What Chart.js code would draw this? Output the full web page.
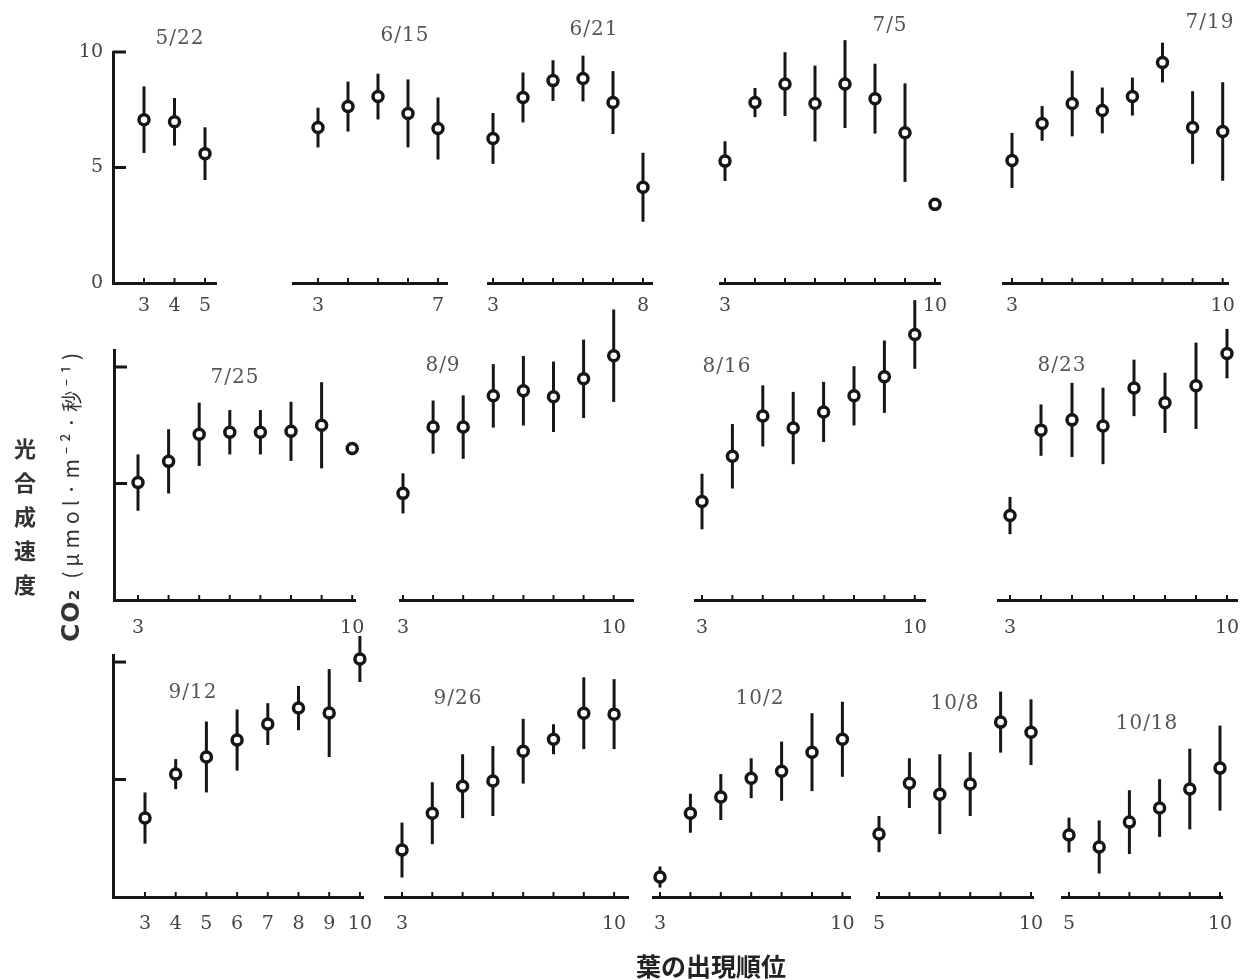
<!DOCTYPE html>
<html><head><meta charset="utf-8">
<script src="https://cdn.jsdelivr.net/npm/chart.js@4.4.1/dist/chart.umd.min.js"></script>
<style>
html,body{margin:0;padding:0;background:#fff;}
body{width:1247px;height:980px;position:relative;overflow:hidden;}
.cw{position:absolute;}
.date{position:absolute;transform:translate(-50%,-50%);font-family:'DejaVu Serif',serif;font-size:20px;color:#555;white-space:nowrap;letter-spacing:1px;z-index:5;}
.ytitle{position:absolute;left:12px;top:430px;width:26px;font-family:'Noto Sans CJK JP',sans-serif;font-weight:700;font-size:22px;line-height:34px;color:#333;text-align:center;z-index:5;}
.yunit{position:absolute;left:70px;top:495px;transform:translate(-50%,-50%) rotate(-90deg);font-family:'Noto Sans CJK JP',sans-serif;font-size:21px;letter-spacing:5px;color:#333;white-space:nowrap;z-index:5;}
.yunit b{font-family:'DejaVu Sans',sans-serif;font-size:25px;letter-spacing:1px;}
.xtitle{position:absolute;left:711px;top:965px;transform:translate(-50%,-50%);font-family:'Noto Sans CJK JP',sans-serif;font-weight:700;font-size:25px;color:#222;white-space:nowrap;z-index:5;}
</style></head><body>
<div class="ytitle">光<br>合<br>成<br>速<br>度</div>
<div class="yunit"><b>CO₂</b> (μmol·m⁻²·秒⁻¹)</div>
<div class="xtitle">葉の出現順位</div>
<script>
// ---------- DATA ----------
const dates = ['5/22','6/15','6/21','7/5','7/19','7/25','8/9','8/16','8/23','9/12','9/26','10/2','10/8','10/18'];

const ticks_0522 = ['3','4','5'];
const mean_0522 = [7.07, 6.98, 5.6];
const sd_0522   = [1.44, 1.03, 1.14];

const ticks_0615 = ['3','','','','7'];
const mean_0615 = [6.72, 7.63, 8.06, 7.33, 6.68];
const sd_0615   = [0.86, 1.08, 0.99, 1.47, 1.34];

const ticks_0621 = ['3','','','','','8'];
const mean_0621 = [6.25, 8.02, 8.75, 8.84, 7.8, 4.14];
const sd_0621   = [1.1, 1.08, 0.88, 0.99, 1.36, 1.49];

const ticks_0705 = ['3','','','','','','','10'];
const mean_0705 = [5.27, 7.8, 8.6, 7.76, 8.6, 7.97, 6.5, 3.4];
const sd_0705   = [0.86, 0.63, 1.38, 1.64, 1.9, 1.51, 2.13, 0];

const ticks_0719 = ['3','','','','','','','10'];
const mean_0719 = [5.3, 6.9, 7.76, 7.46, 8.06, 9.53, 6.72, 6.55];
const sd_0719   = [1.19, 0.75, 1.42, 0.99, 0.82, 0.86, 1.57, 2.13];

const ticks_0725 = ['3','','','','','','','10'];
const mean_0725 = [5.04, 5.95, 7.11, 7.2, 7.2, 7.24, 7.5, 6.5];
const sd_0725   = [1.21, 1.38, 1.36, 0.95, 0.95, 1.27, 1.85, 0];

const ticks_0809 = ['3','','','','','','','10'];
const mean_0809 = [4.57, 7.41, 7.41, 8.75, 8.97, 8.71, 9.48, 10.47];
const sd_0809   = [0.86, 1.14, 1.36, 1.36, 1.49, 1.51, 1.68, 1.98];

const ticks_0816 = ['3','','','','','','','10'];
const mean_0816 = [4.22, 6.16, 7.89, 7.37, 8.06, 8.75, 9.57, 11.38];
const sd_0816   = [1.19, 1.38, 1.31, 1.55, 1.29, 1.27, 1.55, 1.47];

const ticks_0823 = ['3','','','','','','','10'];
const mean_0823 = [3.62, 7.28, 7.72, 7.46, 9.09, 8.45, 9.18, 10.56];
const sd_0823   = [0.8, 1.1, 1.59, 1.64, 1.21, 1.29, 1.85, 1.06];

const ticks_0912 = ['3','4','5','6','7','8','9','10'];
const mean_0912 = [3.36, 5.23, 5.96, 6.68, 7.36, 8.04, 7.83, 10.13];
const sd_0912   = [1.09, 0.64, 1.51, 1.3, 0.89, 0.94, 1.87, 0.98];

const ticks_0926 = ['3','','','','','','','10'];
const mean_0926 = [2.0, 3.57, 4.72, 4.94, 6.21, 6.72, 7.83, 7.79];
const sd_0926   = [1.17, 1.32, 1.36, 1.49, 1.38, 0.64, 1.53, 1.49];

const ticks_1002 = ['3','','','','','','10'];
const mean_1002 = [0.85, 3.57, 4.26, 5.06, 5.36, 6.17, 6.72];
const sd_1002   = [0.45, 0.83, 0.98, 0.85, 1.26, 1.66, 1.6];

const ticks_1008 = ['5','','','','','10'];
const mean_1008 = [2.68, 4.85, 4.38, 4.81, 7.45, 7.02];
const sd_1008   = [0.77, 1.06, 1.7, 1.36, 1.3, 1.4];

const ticks_1018 = ['5','','','','','10'];
const mean_1018 = [2.64, 2.13, 3.19, 3.79, 4.6, 5.49];
const sd_1018   = [0.74, 1.13, 1.36, 1.23, 1.72, 1.81];

const yTickValues = [0, 5, 10];
const yTickLabels = ['0', '5', '10'];

// ---------- LAYOUT (page geometry, not data) ----------
// axisTop: where the drawn y-axis ends; plotTop: room above it for the marks of panels without an axis line
const rows = [
  {y0: 283, ppu: 23.1, axisTop: 10,    plotTop: 11.5, yLabels: true,  labPad: 12},
  {y0: 600, ppu: 23.3, axisTop: 10.73, plotTop: 13.5, yLabels: false, labPad: 17},
  {y0: 897, ppu: 23.5, axisTop: 10.3,  plotTop: 11.8, yLabels: false, labPad: 16}
];
const panels = [
  {ticks: ticks_0522, mean: mean_0522, sd: sd_0522, row: 0, left: 113, right: 216, first: 144, step: 30.5, yAxis: true,  lx: 180,  ly: 37},
  {ticks: ticks_0615, mean: mean_0615, sd: sd_0615, row: 0, left: 293, right: 447, first: 318, step: 30,   yAxis: false, lx: 405,  ly: 34},
  {ticks: ticks_0621, mean: mean_0621, sd: sd_0621, row: 0, left: 488, right: 652, first: 493, step: 30,   yAxis: false, lx: 594,  ly: 28},
  {ticks: ticks_0705, mean: mean_0705, sd: sd_0705, row: 0, left: 720, right: 940, first: 725, step: 30,   yAxis: false, lx: 890,  ly: 24},
  {ticks: ticks_0719, mean: mean_0719, sd: sd_0719, row: 0, left: 1003,right: 1228,first: 1012,step: 30.1, yAxis: false, lx: 1210, ly: 21},
  {ticks: ticks_0725, mean: mean_0725, sd: sd_0725, row: 1, left: 114, right: 355, first: 138, step: 30.6, yAxis: true,  lx: 235,  ly: 376},
  {ticks: ticks_0809, mean: mean_0809, sd: sd_0809, row: 1, left: 400, right: 633, first: 403, step: 30.1, yAxis: false, lx: 443,  ly: 364},
  {ticks: ticks_0816, mean: mean_0816, sd: sd_0816, row: 1, left: 695, right: 925, first: 702, step: 30.4, yAxis: false, lx: 727,  ly: 365},
  {ticks: ticks_0823, mean: mean_0823, sd: sd_0823, row: 1, left: 998, right: 1237,first: 1010,step: 31,   yAxis: false, lx: 1062, ly: 364},
  {ticks: ticks_0912, mean: mean_0912, sd: sd_0912, row: 2, left: 113, right: 363, first: 145, step: 30.7, yAxis: true,  lx: 193,  ly: 691},
  {ticks: ticks_0926, mean: mean_0926, sd: sd_0926, row: 2, left: 385, right: 628, first: 402, step: 30.3, yAxis: false, lx: 458,  ly: 697},
  {ticks: ticks_1002, mean: mean_1002, sd: sd_1002, row: 2, left: 653, right: 850, first: 660, step: 30.4, yAxis: false, lx: 760,  ly: 697},
  {ticks: ticks_1008, mean: mean_1008, sd: sd_1008, row: 2, left: 877, right: 1033,first: 879, step: 30.4, yAxis: false, lx: 955,  ly: 702},
  {ticks: ticks_1018, mean: mean_1018, sd: sd_1018, row: 2, left: 1062,right: 1222,first: 1069,step: 30.2, yAxis: false, lx: 1147, ly: 722}
];

const INK = '#161616';

const errorBars = {
  id: 'errorBars',
  beforeDatasetsDraw(chart) {
    const {ctx, scales: {x, y}} = chart;
    ctx.save();
    ctx.strokeStyle = INK;
    ctx.lineWidth = 3;
    chart.data.datasets.forEach(ds => {
      ds.data.forEach((pt, i) => {
        const e = ds.errors[i];
        if (!e) return;
        const px = x.getPixelForValue(pt.x);
        ctx.beginPath();
        ctx.moveTo(px, y.getPixelForValue(pt.y + e));
        ctx.lineTo(px, y.getPixelForValue(pt.y - e));
        ctx.stroke();
      });
    });
    ctx.restore();
  }
};

const innerTicks = {
  id: 'innerTicks',
  afterDatasetsDraw(chart) {
    const {ctx, scales: {x, y}, chartArea} = chart;
    ctx.save();
    ctx.strokeStyle = INK;
    ctx.lineWidth = 2;
    x.ticks.forEach(t => {
      const px = x.getPixelForValue(t.value);
      ctx.beginPath();
      ctx.moveTo(px, chartArea.bottom);
      ctx.lineTo(px, chartArea.bottom - 5);
      ctx.stroke();
    });
    if (chart.options.scales.y.display) {
      ctx.lineWidth = 3;
      y.ticks.forEach(t => {
        if (t.value === 0) return;
        const py = y.getPixelForValue(t.value);
        ctx.beginPath();
        ctx.moveTo(chartArea.left, py);
        ctx.lineTo(chartArea.left + 13, py);
        ctx.stroke();
      });
    }
    ctx.restore();
  }
};

panels.forEach((L, k) => {
  const R = rows[L.row];
  const yMax = L.yAxis ? R.axisTop : R.plotTop;
  const yAxisW = L.yAxis ? 40 : 0;
  const padL = 45, padR = 45, xAxisH = 46;
  const areaH = yMax * R.ppu;
  const chartTop = R.y0 - areaH;
  const padT = Math.max(0, Math.min(60, Math.floor(chartTop) - 1));
  const areaW = L.right - L.left;
  const W = padL + yAxisW + areaW + padR;
  const H = padT + areaH + xAxisH;
  const xmin = -(L.first - L.left) / L.step;
  const xmax = (L.right - L.first) / L.step;

  const wrap = document.createElement('div');
  wrap.className = 'cw';
  wrap.style.left = (L.left - yAxisW - padL) + 'px';
  wrap.style.top = (chartTop - padT) + 'px';
  wrap.style.width = W + 'px';
  wrap.style.height = H + 'px';
  const cv = document.createElement('canvas');
  cv.width = W; cv.height = Math.round(H);
  cv.style.width = W + 'px'; cv.style.height = Math.round(H) + 'px';
  wrap.appendChild(cv);
  document.body.appendChild(wrap);

  const lab = document.createElement('div');
  lab.className = 'date';
  lab.textContent = dates[k];
  lab.style.left = L.lx + 'px';
  lab.style.top = L.ly + 'px';
  document.body.appendChild(lab);

  new Chart(cv, {
    type: 'scatter',
    data: {
      datasets: [{
        data: L.mean.map((v, i) => ({x: i, y: v})),
        errors: L.sd,
        showLine: false,
        pointStyle: 'circle',
        pointRadius: 5,
        pointHoverRadius: 5,
        pointBorderWidth: 3.5,
        pointBorderColor: INK,
        pointBackgroundColor: '#fff',
        clip: false
      }]
    },
    options: {
      responsive: false,
      animation: false,
      events: [],
      layout: {padding: {left: padL, right: padR, top: padT, bottom: 0}},
      plugins: {legend: {display: false}, tooltip: {enabled: false}, title: {display: false}},
      scales: {
        x: {
          type: 'linear',
          min: xmin, max: xmax,
          afterBuildTicks: s => { s.ticks = L.ticks.map((_, i) => ({value: i})); },
          afterFit: s => { s.height = xAxisH; },
          grid: {display: false, drawTicks: false},
          border: {display: true, color: INK, width: 3},
          ticks: {
            autoSkip: false, maxRotation: 0, padding: R.labPad,
            color: '#444',
            font: {family: 'DejaVu Serif', size: 19},
            callback: v => L.ticks[Math.round(v)]
          }
        },
        y: {
          type: 'linear',
          display: L.yAxis,
          min: 0, max: yMax,
          afterBuildTicks: s => { s.ticks = yTickValues.map(v => ({value: v})); },
          afterFit: s => { s.width = yAxisW; },
          grid: {display: false, drawTicks: false},
          border: {display: true, color: INK, width: 3},
          ticks: {
            display: R.yLabels,
            padding: 10,
            color: '#444',
            font: {family: 'DejaVu Serif', size: 19},
            callback: v => yTickLabels[yTickValues.indexOf(v)]
          }
        }
      }
    },
    plugins: [errorBars, innerTicks]
  });
});
</script>
</body></html>
